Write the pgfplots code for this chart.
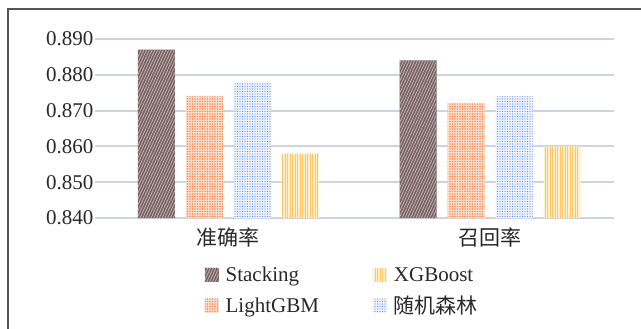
\documentclass[border=0pt]{standalone}
\usepackage{pgfplots}
\pgfplotsset{compat=1.18}
\usepackage{fontspec}
\setmainfont{Liberation Serif}
\newfontfamily\cjk{Noto Sans CJK SC}
\usetikzlibrary{patterns.meta}
\definecolor{gridc}{RGB}{206,212,219}
\definecolor{framec}{RGB}{85,85,85}
\definecolor{txtc}{RGB}{40,40,40}
\definecolor{stkbg}{RGB}{115,95,95}
\definecolor{stkfg}{RGB}{200,182,182}
\definecolor{lgbbg}{RGB}{253,228,210}
\definecolor{lgbfg}{RGB}{245,140,85}
\definecolor{rfbg}{RGB}{240,244,252}
\definecolor{rffg}{RGB}{90,140,230}
\definecolor{xgbbg}{RGB}{255,240,205}
\definecolor{xgbfg}{RGB}{255,200,100}
\pgfplotstableread{
x stk lgb rf xgb
0 0.887 0.874 0.878 0.858
1 0.884 0.872 0.874 0.860
}\datatab
\begin{document}
\begin{tikzpicture}[x=1pt,y=1pt]
\path[use as bounding box] (0,0) rectangle (641,-329);
\draw[line width=1.2pt, color=framec] (8,-335) -- (8,-9) -- (650,-9);
\begin{axis}[
  at={(95pt,-218pt)}, anchor=south west,
  scale only axis, width=519pt, height=179pt,
  ymin=0.840, ymax=0.890, ytick={0.840,0.850,0.860,0.870,0.880,0.890},
  yticklabels={0.840,0.850,0.860,0.870,0.880,0.890},
  xmin=-0.51, xmax=1.474,
  xtick={0,1}, xticklabels={{\cjk 准确率},{\cjk 召回率}},
  ybar, bar width=37pt,
  axis line style={draw=none}, tick style={draw=none},
  ymajorgrids, grid style={color=gridc, line width=2pt},
  tick label style={font=\rmfamily\fontsize{21}{24}\selectfont, text=txtc},
  yticklabel style={inner sep=1.5pt},
  xticklabel style={yshift=-2pt},
  legend style={at={(0.205,-0.25)}, anchor=north west, draw=none, fill=none,
    font=\rmfamily\fontsize{21}{24}\selectfont, text=txtc,
    /tikz/every even column/.append style={column sep=52pt},
    row sep=9pt},
  legend columns=2, legend cell align=left,
  legend image code/.code={\path[#1] (0pt,-7pt) rectangle (14pt,7pt); \path (19pt,0pt);},
  stk/.style={draw=none, fill=stkbg, postaction={pattern={Lines[angle=65,distance=2.5pt,line width=0.8pt]}, pattern color=stkfg}},
  lgb/.style={draw=none, fill=lgbbg, postaction={pattern={Dots[distance=2.5pt,radius=0.9pt]}, pattern color=lgbfg}},
  rf/.style={draw=none, fill=rfbg, postaction={pattern={Dots[distance=2.5pt,radius=0.6pt]}, pattern color=rffg}},
  xgb/.style={draw=none, fill=xgbbg, postaction={pattern={Lines[angle=90,distance=2.5pt,line width=0.8pt]}, pattern color=xgbfg}},
]
\addplot[stk, bar shift=-72pt, forget plot] table[x=x,y=stk]{\datatab};
\addplot[lgb, bar shift=-24pt, forget plot] table[x=x,y=lgb]{\datatab};
\addplot[rf, bar shift=24pt, forget plot] table[x=x,y=rf]{\datatab};
\addplot[xgb, bar shift=72pt, forget plot] table[x=x,y=xgb]{\datatab};
\addlegendimage{stk}\addlegendentry{Stacking}
\addlegendimage{xgb}\addlegendentry{XGBoost}
\addlegendimage{lgb}\addlegendentry{LightGBM}
\addlegendimage{rf}\addlegendentry{{\cjk 随机森林}}
\end{axis}
\end{tikzpicture}
\end{document}
